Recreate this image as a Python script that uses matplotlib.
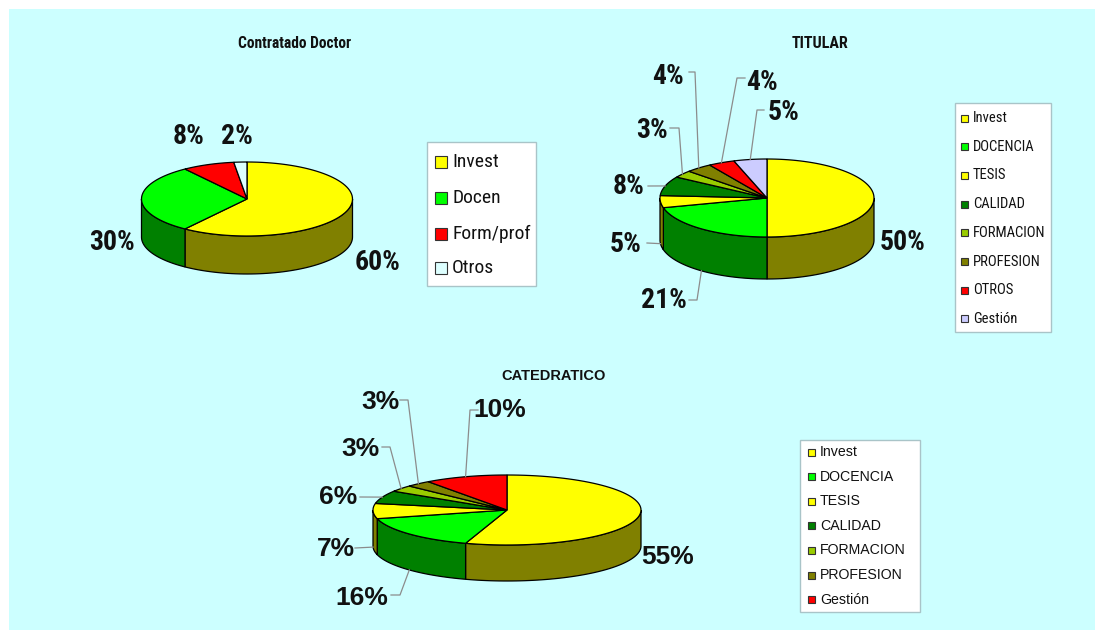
import numpy as np
import matplotlib.pyplot as plt
from matplotlib.patches import Polygon, Rectangle
from matplotlib.colors import to_rgb

# Contratado Doctor
cd_labels = ["Invest", "Docen", "Form/prof", "Otros"]
cd_values = [60, 30, 8, 2]
cd_colors = ["#FFFF00", "#00FF00", "#FF0000", "#DDFFFF"]

# Titular
tit_labels = ["Invest", "DOCENCIA", "TESIS", "CALIDAD", "FORMACION", "PROFESION", "OTROS", "Gestión"]
tit_values = [50, 21, 5, 8, 3, 4, 4, 5]
tit_colors = ["#FFFF00", "#00FF00", "#FFFF00", "#008000", "#99CC00", "#808000", "#FF0000", "#CCCCFF"]

# Catedratico
cat_labels = ["Invest", "DOCENCIA", "TESIS", "CALIDAD", "FORMACION", "PROFESION", "Gestión"]
cat_values = [55, 16, 7, 6, 3, 3, 10]
cat_colors = ["#FFFF00", "#00FF00", "#FFFF00", "#008000", "#99CC00", "#808000", "#FF0000"]

NARROW = ["Roboto Condensed", "DejaVu Sans"]
ARIAL = ["Liberation Sans", "DejaVu Sans"]

fig = plt.figure(figsize=(10.95, 6.32), dpi=100)
ax = fig.add_axes([0, 0, 1, 1])
ax.set_xlim(0, 1095)
ax.set_ylim(632, 0)
ax.axis("off")

# background panel
ax.add_patch(Rectangle((9, 9), 1086, 621, facecolor="#CCFFFF", edgecolor="none", zorder=0))


def pt(cx, cy, rx, ry, theta, dy=0):
    # theta in degrees, clockwise from 12 o'clock
    t = np.radians(theta)
    return cx + rx * np.sin(t), cy - ry * np.cos(t) + dy


def pie3d(values, colors, cx, cy, rx, ry, depth):
    vals = np.array(values, dtype=float)
    edges = np.concatenate([[0], np.cumsum(vals) / vals.sum() * 360])
    # front walls
    for i, c in enumerate(colors):
        a = max(edges[i], 90)
        b = min(edges[i + 1], 270)
        if b <= a:
            continue
        t = np.linspace(a, b, 60)
        x, y = pt(cx, cy, rx, ry, t)
        xy = np.vstack([np.column_stack([x, y]), np.column_stack([x, y + depth])[::-1]])
        dark = tuple(v * 0.5 for v in to_rgb(c))
        ax.add_patch(Polygon(xy, closed=True, facecolor=dark, edgecolor="black", lw=0.9, zorder=2))
    # top faces
    for i, c in enumerate(colors):
        t = np.linspace(edges[i], edges[i + 1], 80)
        x, y = pt(cx, cy, rx, ry, t)
        xy = np.vstack([[cx, cy], np.column_stack([x, y])])
        ax.add_patch(Polygon(xy, closed=True, facecolor=c, edgecolor="black", lw=0.9, zorder=3))
    mids = (edges[:-1] + edges[1:]) / 2
    return mids


def pct_labels(values, mids, geo, spots, family, size):
    cx, cy, rx, ry, depth = geo
    for v, m, s in zip(values, mids, spots):
        tx, ty, lead = s
        ax.text(tx, ty, f"{v}%", ha="center", va="center", fontsize=size,
                fontweight="bold", family=family, color="#111111", zorder=5)
        if lead is None:
            continue
        x0, x1, ly, where = lead
        dy = depth if where == "bottom" else 0
        ax_, ay_ = pt(cx, cy, rx, ry, m, dy)
        ax.plot([x0, x1, ax_], [ly, ly, ay_], color="#8C8C8C", lw=0.9, zorder=4)


def legend_box(x0, y0, x1, y1, labels, colors, ys, msize, tx, family, size):
    ax.add_patch(Rectangle((x0, y0), x1 - x0, y1 - y0, facecolor="white",
                           edgecolor="#A9C4C8", lw=1.0, zorder=4))
    for lab, c, y in zip(labels, colors, ys):
        ax.add_patch(Rectangle((tx - msize - 5, y - msize / 2), msize, msize,
                               facecolor=c, edgecolor="#333333", lw=0.8, zorder=5))
        ax.text(tx, y, lab, ha="left", va="center", fontsize=size, family=family,
                color="#111111", zorder=5)


# ---- Contratado Doctor ----
geo1 = (247, 199, 105.5, 37, 38)
m1 = pie3d(cd_values, cd_colors, *geo1)
pct_labels(cd_values, m1, geo1,
           [(378, 262, None), (112, 243, None), (189, 137, None), (237, 137, None)],
           NARROW, 20)
ax.text(295, 44, "Contratado Doctor", ha="center", va="center", fontsize=11.2,
        fontweight="bold", family=NARROW, color="#111111")
legend_box(427, 142, 536, 286, cd_labels, cd_colors, [162, 198, 234, 268], 12, 452, NARROW, 14)

# ---- Titular ----
geo2 = (767, 198, 107, 39, 42)
m2 = pie3d(tit_values, tit_colors, *geo2)
pct_labels(tit_values, m2, geo2,
           [(903, 242, None),
            (664, 300, (689, 697, 300, "bottom")),
            (626, 245, (647, 647, 243, "bottom")),
            (629, 187, (648, 648, 186, "top")),
            (652, 131, (670, 679, 128, "top")),
            (668, 77, (689, 695, 72, "top")),
            (762, 82, (745, 737, 78, "top")),
            (784, 112, (764, 757, 110, "top"))],
           NARROW, 20)
ax.text(820, 44, "TITULAR", ha="center", va="center", fontsize=11.5,
        fontweight="bold", family=NARROW, color="#111111")
legend_box(955, 103, 1051, 332, tit_labels, tit_colors,
           [118 + 28.7 * i for i in range(8)], 7, 973, NARROW, 10.5)

# ---- Catedratico ----
geo3 = (507, 510, 134, 35, 36)
m3 = pie3d(cat_values, cat_colors, *geo3)
pct_labels(cat_values, m3, geo3,
           [(668, 557, None),
            (362, 598, (391, 400, 595, "bottom")),
            (336, 549, (355, 355, 548, "bottom")),
            (338, 497, (360, 360, 497, "top")),
            (360, 449, (382, 390, 447, "top")),
            (380, 402, (400, 408, 400, "top")),
            (500, 410, (478, 470, 410, "top"))],
           ARIAL, 19)
ax.text(554, 376, "CATEDRATICO", ha="center", va="center", fontsize=10.5,
        fontweight="bold", family=ARIAL, color="#111111")
legend_box(800, 440, 920, 612, cat_labels, cat_colors,
           [452 + 24.6 * i for i in range(7)], 7, 820, ARIAL, 10.2)

fig.savefig("out.png", dpi=100, facecolor="white")
